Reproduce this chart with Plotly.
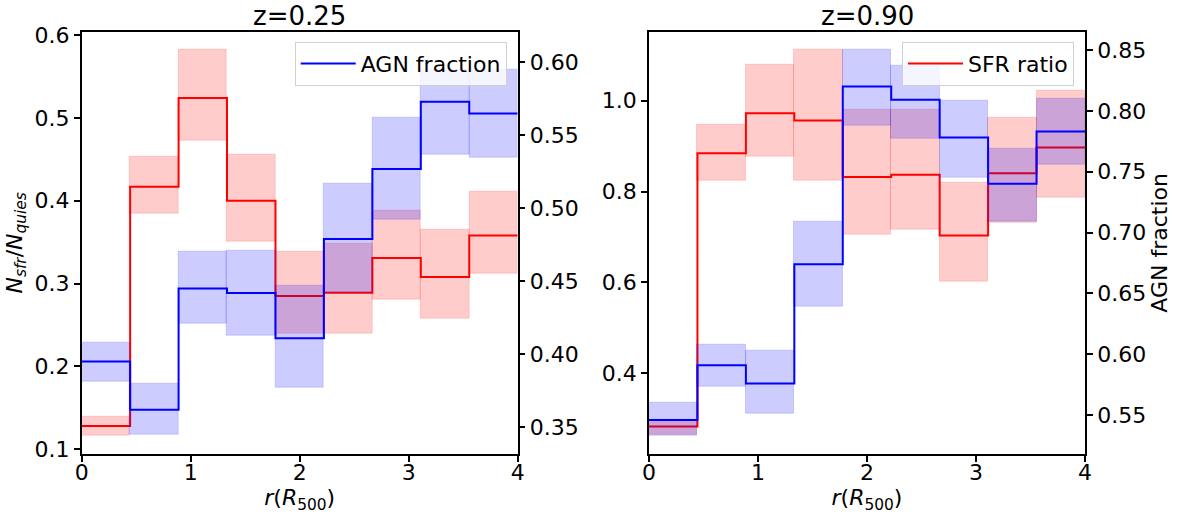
import numpy as np
import plotly.graph_objects as go

# ---- data ----
r_edges = [0.0, 0.4444, 0.8889, 1.3333, 1.7778, 2.2222, 2.6667, 3.1111, 3.5556, 4.0]

sfr_025 = [0.128, 0.417, 0.524, 0.400, 0.285, 0.289, 0.331, 0.308, 0.358]
sfr_025_lo = [0.116, 0.384, 0.472, 0.350, 0.239, 0.239, 0.281, 0.258, 0.312]
sfr_025_hi = [0.139, 0.453, 0.582, 0.455, 0.338, 0.348, 0.388, 0.365, 0.411]
agn_025 = [0.395, 0.362, 0.445, 0.442, 0.411, 0.479, 0.527, 0.573, 0.565]
agn_025_lo = [0.381, 0.345, 0.421, 0.413, 0.377, 0.442, 0.492, 0.537, 0.535]
agn_025_hi = [0.408, 0.380, 0.470, 0.471, 0.447, 0.517, 0.562, 0.595, 0.595]

sfr_090 = [0.283, 0.884, 0.972, 0.956, 0.832, 0.837, 0.703, 0.840, 0.897]
sfr_090_lo = [0.265, 0.824, 0.876, 0.824, 0.706, 0.716, 0.602, 0.732, 0.787]
sfr_090_hi = [0.298, 0.948, 1.080, 1.111, 0.980, 0.980, 0.820, 0.963, 1.021]
agn_090 = [0.546, 0.591, 0.576, 0.674, 0.820, 0.809, 0.778, 0.740, 0.783]
agn_090_lo = [0.533, 0.573, 0.551, 0.639, 0.788, 0.777, 0.745, 0.709, 0.756]
agn_090_hi = [0.560, 0.608, 0.603, 0.709, 0.850, 0.837, 0.808, 0.769, 0.810]

titles = ["z=0.25", "z=0.90"]

# ---- styling ----
W, H = 1179, 515
FONT = "DejaVu Sans"
FS = 22
RED = "#ff0000"
BLUE = "#0000ff"
RED_FILL = "rgba(255,0,0,0.2)"
BLUE_FILL = "rgba(0,0,255,0.2)"

edges = np.array(r_edges)
centers = (edges[:-1] + edges[1:]) / 2
widths = np.diff(edges)


def px_x(p):
    return p / W


def px_y(p):
    return 1 - p / H


fig = go.Figure()


def add_panel(xa, ya_left, ya_right, sfr, sfr_lo, sfr_hi, agn, agn_lo, agn_hi, legend_name, show):
    sfr_lo = np.array(sfr_lo); sfr_hi = np.array(sfr_hi)
    agn_lo = np.array(agn_lo); agn_hi = np.array(agn_hi)
    fig.add_trace(go.Bar(x=centers, y=sfr_hi - sfr_lo, base=sfr_lo, width=widths,
                         marker=dict(color=RED_FILL, line=dict(color="rgba(255,0,0,0.15)", width=1)),
                         xaxis=xa, yaxis=ya_left, showlegend=False, hoverinfo="skip"))
    fig.add_trace(go.Scatter(x=edges, y=list(sfr) + [sfr[-1]], mode="lines", line_shape="hv",
                             line=dict(color=RED, width=2), name="SFR ratio",
                             xaxis=xa, yaxis=ya_left, legend=legend_name,
                             showlegend=(show == "sfr")))
    fig.add_trace(go.Bar(x=centers, y=agn_hi - agn_lo, base=agn_lo, width=widths,
                         marker=dict(color=BLUE_FILL, line=dict(color="rgba(0,0,255,0.15)", width=1)),
                         xaxis=xa, yaxis=ya_right, showlegend=False, hoverinfo="skip"))
    fig.add_trace(go.Scatter(x=edges, y=list(agn) + [agn[-1]], mode="lines", line_shape="hv",
                             line=dict(color=BLUE, width=2), name="AGN fraction",
                             xaxis=xa, yaxis=ya_right, legend=legend_name,
                             showlegend=(show == "agn")))


add_panel("x", "y", "y2", sfr_025, sfr_025_lo, sfr_025_hi, agn_025, agn_025_lo, agn_025_hi, "legend", "agn")
add_panel("x2", "y3", "y4", sfr_090, sfr_090_lo, sfr_090_hi, agn_090, agn_090_lo, agn_090_hi, "legend2", "sfr")

xdom1 = [px_x(81.7), px_x(517.7)]
xdom2 = [px_x(649), px_x(1085)]
ydom = [px_y(454), px_y(31.7)]

axis_common = dict(showgrid=False, zeroline=False, showline=True, linecolor="black", linewidth=1.5,
                   ticks="outside", ticklen=6, tickwidth=1.5, tickcolor="black", automargin=False,
                   tickfont=dict(family=FONT, size=FS, color="black"))

xlabel = "<i>r</i>(<i>R</i><sub>500</sub>)"

legend_common = dict(yanchor="top", xanchor="right", itemwidth=55,
                     bgcolor="rgba(255,255,255,0.8)", bordercolor="#d0d0d0", borderwidth=1,
                     font=dict(family=FONT, size=FS, color="black"))

fig.update_layout(
    width=W, height=H, margin=dict(l=0, r=0, t=0, b=0, autoexpand=False),
    plot_bgcolor="white", paper_bgcolor="white",
    barmode="overlay", bargap=0,
    font=dict(family=FONT, size=FS, color="black"),
    xaxis=dict(domain=xdom1, anchor="y", range=[0, 4], tickvals=[0, 1, 2, 3, 4], mirror=True,
               ticklabelstandoff=-8,
               title=dict(text=xlabel, font=dict(family=FONT, size=FS), standoff=0), **axis_common),
    yaxis=dict(domain=ydom, anchor="x", range=[0.0943, 0.604], tickvals=[0.1, 0.2, 0.3, 0.4, 0.5, 0.6],
               tickformat=".1f",
               title=dict(text="<i>N<sub>sfr</sub></i>/<i>N<sub>quies</sub></i>", font=dict(family=FONT, size=FS), standoff=6),
               **axis_common),
    yaxis2=dict(overlaying="y", side="right", anchor="x", range=[0.3317, 0.621],
                tickvals=[0.35, 0.40, 0.45, 0.50, 0.55, 0.60], tickformat=".2f", **axis_common),
    xaxis2=dict(domain=xdom2, anchor="y3", range=[0, 4], tickvals=[0, 1, 2, 3, 4], mirror=True,
                ticklabelstandoff=-8,
                title=dict(text=xlabel, font=dict(family=FONT, size=FS), standoff=0), **axis_common),
    yaxis3=dict(domain=ydom, anchor="x2", range=[0.2226, 1.1516], tickvals=[0.4, 0.6, 0.8, 1.0],
                tickformat=".1f", **axis_common),
    yaxis4=dict(overlaying="y3", side="right", anchor="x2", range=[0.518, 0.865],
                tickvals=[0.55, 0.60, 0.65, 0.70, 0.75, 0.80, 0.85], tickformat=".2f",
                title=dict(text="AGN fraction", font=dict(family=FONT, size=FS), standoff=6),
                **axis_common),
    legend=dict(x=px_x(506.7), y=px_y(41.7), **legend_common),
    legend2=dict(x=px_x(1074), y=px_y(41.7), **legend_common),
    annotations=[
        dict(text=titles[0], x=(xdom1[0] + xdom1[1]) / 2, y=px_y(16), xref="paper", yref="paper",
             xanchor="center", yanchor="middle", showarrow=False, font=dict(family=FONT, size=26, color="black")),
        dict(text=titles[1], x=(xdom2[0] + xdom2[1]) / 2, y=px_y(16), xref="paper", yref="paper",
             xanchor="center", yanchor="middle", showarrow=False, font=dict(family=FONT, size=26, color="black")),
    ],
)

fig.write_html("out.html", config={"displayModeBar": False},
               post_script="document.body.style.margin='0';document.body.style.padding='0';document.body.style.overflow='hidden';")
